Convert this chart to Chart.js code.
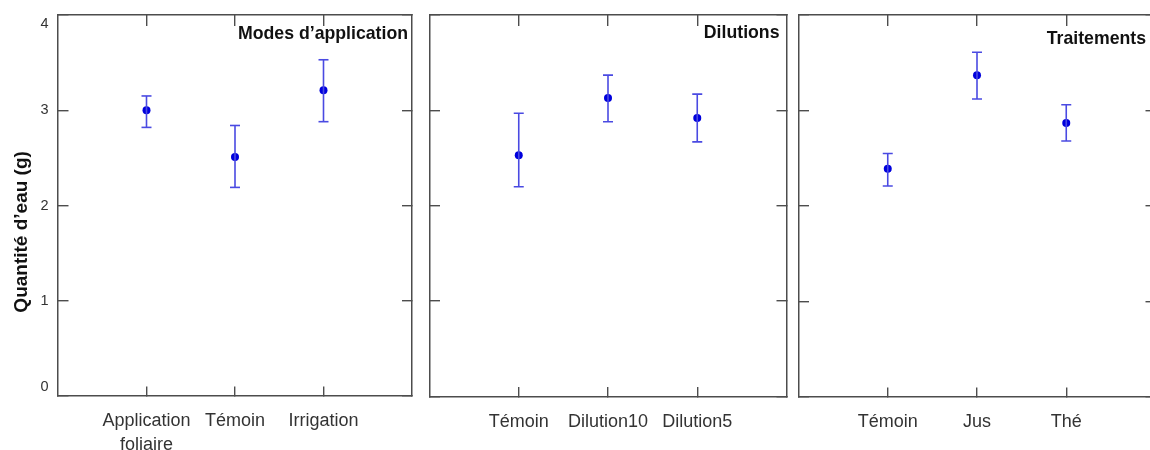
<!DOCTYPE html>
<html>
<head>
<meta charset="utf-8">
<script src="https://cdn.jsdelivr.net/npm/chart.js@4.4.1/dist/chart.umd.min.js"></script>
<style>
  html, body { margin: 0; padding: 0; background: #ffffff; width: 1150px; height: 450px; overflow: hidden; }
  .panel { position: absolute; top: 0; height: 450px; }
</style>
</head>
<body>
<div class="panel" style="left:0px;width:420px"><canvas id="c1" width="420" height="450"></canvas></div>
<div class="panel" style="left:420px;width:380px"><canvas id="c2" width="380" height="450"></canvas></div>
<div class="panel" style="left:790px;width:380px"><canvas id="c3" width="380" height="450"></canvas></div>
<script>
// ---------- DATA ----------
const yTickValues = [0, 1, 2, 3, 4];
const yAxisTitle = "Quantité d’eau (g)";

const titleModes = "Modes d’application";
const catsModes = [["Application", "foliaire"], "Témoin", "Irrigation"];
const meanModes = [3.00, 2.51, 3.21];
const lowModes  = [2.82, 2.19, 2.88];
const highModes = [3.15, 2.84, 3.53];

const titleDilutions = "Dilutions";
const catsDilutions = ["Témoin", "Dilution10", "Dilution5"];
const meanDilutions = [2.53, 3.13, 2.92];
const lowDilutions  = [2.20, 2.88, 2.67];
const highDilutions = [2.97, 3.37, 3.17];

const titleTraitements = "Traitements";
const catsTraitements = ["Témoin", "Jus", "Thé"];
const meanTraitements = [2.39, 3.37, 2.87];
const lowTraitements  = [2.21, 3.12, 2.68];
const highTraitements = [2.55, 3.61, 3.06];

// ---------- STYLE ----------
const FONT = '"Liberation Sans", Arial, sans-serif';
const AXIS_COLOR = '#4d4d4d';
const MARKER_COLOR = '#0000dd';
const BAR_COLOR = '#4a4ae2';

const panelTitlePlugin = {
  id: 'panelTitle',
  afterDraw(chart, args, opts) {
    const { ctx, chartArea } = chart;
    ctx.save();
    ctx.font = 'bold 17.7px ' + FONT;
    ctx.fillStyle = '#111111';
    ctx.textAlign = 'right';
    ctx.textBaseline = 'middle';
    ctx.fillText(opts.text, chartArea.right - opts.dx, chartArea.top + opts.dy);
    ctx.restore();
  }
};

function makePanel(id, p) {
  const n = p.cats.length;
  const catTicks = (scale) => { scale.ticks = p.cats.map((c, i) => ({ value: i + 1 })); };
  const whisker = [];
  p.cats.forEach((c, i) => {
    whisker.push({ x: i + 1, y: p.low[i] });
    whisker.push({ x: i + 1, y: p.high[i] });
    whisker.push({ x: i + 1, y: null });
  });
  const means = p.mean.map((v, i) => ({ x: i + 1, y: v }));

  const gridOpts = (len) => ({
    drawOnChartArea: false, drawTicks: true, tickLength: len,
    color: AXIS_COLOR, lineWidth: 1.4
  });
  const borderOpts = { display: true, color: AXIS_COLOR, width: 1.5 };

  new Chart(document.getElementById(id), {
    type: 'scatter',
    data: {
      datasets: [
        {
          data: whisker, showLine: true, spanGaps: false,
          borderColor: BAR_COLOR, borderWidth: 1.6,
          pointStyle: 'line', pointRadius: 5, pointBorderWidth: 1.6,
          pointBorderColor: BAR_COLOR, pointBackgroundColor: BAR_COLOR,
          pointHoverRadius: 5
        },
        {
          data: means, showLine: false,
          pointStyle: 'circle', pointRadius: 4, pointBorderWidth: 0,
          pointBackgroundColor: MARKER_COLOR, pointBorderColor: MARKER_COLOR
        }
      ]
    },
    plugins: [panelTitlePlugin],
    options: {
      responsive: false,
      animation: false,
      events: [],
      layout: { padding: { top: p.top, right: p.padR, left: 0, bottom: 0 } },
      plugins: {
        legend: { display: false },
        tooltip: { enabled: false },
        panelTitle: { text: p.title, dx: p.titleDx, dy: p.titleDy }
      },
      scales: {
        x: {
          type: 'linear', position: 'bottom', min: 0, max: n + 1,
          afterBuildTicks: catTicks,
          afterFit: (s) => { s.height = p.bottomH; },
          grid: gridOpts(-9.5),
          border: borderOpts,
          ticks: {
            padding: 23,
            color: '#333333',
            font: { family: FONT, size: 18, lineHeight: 1.3 },
            maxRotation: 0, minRotation: 0, autoSkip: false,
            callback: (v) => p.cats[Math.round(v) - 1]
          }
        },
        x2: {
          type: 'linear', position: 'top', min: 0, max: n + 1,
          afterBuildTicks: catTicks,
          afterFit: (s) => { s.height = 0; },
          grid: gridOpts(-11),
          border: borderOpts,
          ticks: { display: false }
        },
        y: {
          type: 'linear', position: 'left', min: 0, max: 4,
          afterBuildTicks: (s) => { s.ticks = yTickValues.map(v => ({ value: v })); },
          afterFit: (s) => { s.width = p.leftW; s.paddingTop = 0; s.paddingBottom = 0; },
          grid: gridOpts(-10.5),
          border: borderOpts,
          title: {
            display: p.showY,
            text: yAxisTitle + '          ',
            color: '#111111',
            font: { family: FONT, size: 19, weight: 'bold', lineHeight: 1.2 },
            padding: { top: 10, bottom: 0 }
          },
          ticks: {
            display: p.showY,
            padding: 20,
            color: '#333333',
            font: { family: FONT, size: 14.5, lineHeight: 1.2 },
            callback: (v) => {
              const t = String(v);
              if (v === 4) return ['', t];
              if (v === 0) return [t, ''];
              return t;
            }
          }
        },
        y2: {
          type: 'linear', position: 'right', min: 0, max: 4,
          afterBuildTicks: (s) => { s.ticks = yTickValues.map(v => ({ value: v })); },
          afterFit: (s) => { s.width = 0; s.paddingTop = 0; s.paddingBottom = 0; },
          grid: gridOpts(-10),
          border: borderOpts,
          ticks: { display: false }
        }
      }
    }
  });
}

makePanel('c1', {
  title: titleModes, cats: catsModes, mean: meanModes, low: lowModes, high: highModes,
  showY: true, leftW: 58, padR: 8, top: 15, bottomH: 54, titleDx: 4, titleDy: 19
});
makePanel('c2', {
  title: titleDilutions, cats: catsDilutions, mean: meanDilutions, low: lowDilutions, high: highDilutions,
  showY: false, leftW: 9.5, padR: 13.5, top: 15, bottomH: 53.5, titleDx: 7, titleDy: 18
});
makePanel('c3', {
  title: titleTraitements, cats: catsTraitements, mean: meanTraitements, low: lowTraitements, high: highTraitements,
  showY: false, leftW: 8.5, padR: 14.5, top: 15, bottomH: 53, titleDx: 9.5, titleDy: 24
});
</script>
</body>
</html>
